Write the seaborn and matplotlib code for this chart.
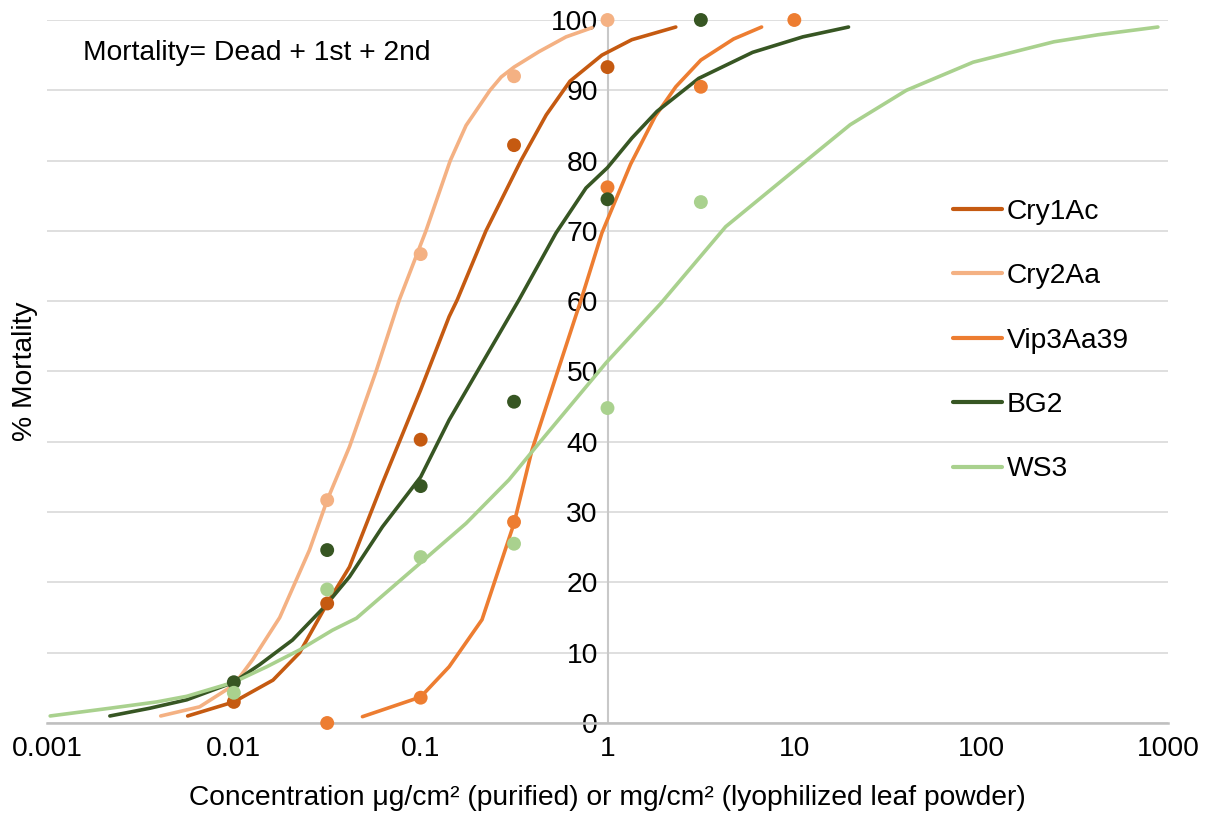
import numpy as np
import pandas as pd
import matplotlib
matplotlib.use("Agg")
import matplotlib.pyplot as plt
import seaborn as sns

# ---------------- data ----------------
series_names = ["Cry1Ac", "Cry2Aa", "Vip3Aa39", "BG2", "WS3"]
colors = ["#C55A11", "#F4B183", "#ED7D31", "#375623", "#A9D18E"]

# observed points
conc = [0.01, 0.0316, 0.1, 0.316, 1, 3.16, 10]
obs_cry1ac = [3.0, 17.0, 40.3, 82.2, 93.3, None, None]
obs_cry2aa = [None, 31.7, 66.7, 92.0, 100.0, None, None]
obs_vip = [None, 0.0, 3.6, 28.6, 76.2, 90.5, 100.0]
obs_bg2 = [5.8, 24.6, 33.7, 45.7, 74.5, 100.0, None]
obs_ws3 = [4.3, 19.0, 23.6, 25.5, 44.8, 74.1, None]

# fitted curves
cry1ac_x = [0.00566, 0.01, 0.0162, 0.0225, 0.0316, 0.0416, 0.0624, 0.1, 0.142, 0.157,
            0.2235, 0.344, 0.47, 0.63, 0.933, 1.35, 2.32]
cry1ac_y = [1.0, 3.0, 6.1, 10.0, 17.0, 22.2, 34.1, 47.4, 57.8, 60.2,
            70.0, 80.0, 86.5, 91.3, 95.0, 97.2, 99.0]

cry2aa_x = [0.00406, 0.00656, 0.01, 0.0126, 0.0176, 0.0254, 0.0316, 0.0416, 0.058, 0.0769,
            0.1067, 0.144, 0.175, 0.235, 0.27, 0.316, 0.43, 0.6, 0.826]
cry2aa_y = [1.0, 2.3, 5.4, 9.0, 15.0, 24.6, 31.7, 39.3, 50.2, 60.2,
            70.0, 80.0, 85.0, 90.0, 91.9, 93.3, 95.5, 97.6, 98.9]

vip_x = [0.0488, 0.1, 0.142, 0.213, 0.316, 0.394, 0.55, 0.73, 0.933, 1.33, 1.8,
         2.32, 3.16, 4.73, 6.68]
vip_y = [0.9, 3.7, 8.0, 14.7, 28.4, 38.8, 50.6, 60.6, 69.7, 79.5, 86.3,
         90.5, 94.3, 97.3, 99.0]

bg2_x = [0.00217, 0.00355, 0.0056, 0.01, 0.01374, 0.0206, 0.0305, 0.0416, 0.0624, 0.1,
         0.142, 0.336, 0.53, 0.767, 1.0, 1.35, 1.84, 3.08, 5.98, 11.1, 19.5]
bg2_y = [1.0, 2.1, 3.3, 5.8, 8.3, 11.8, 16.5, 20.8, 27.9, 35.0,
         43.1, 60.2, 69.7, 76.1, 79.0, 83.2, 87.0, 91.7, 95.4, 97.6, 99.0]

ws3_x = [0.00104, 0.00217, 0.00387, 0.0056, 0.01, 0.015, 0.0225, 0.0337, 0.0453, 0.1,
         0.175, 0.297, 0.43, 0.98, 1.93, 4.29, 11.1, 19.9, 39.8, 90.6, 245, 422, 883]
ws3_y = [1.0, 2.1, 3.0, 3.8, 5.8, 8.0, 10.4, 13.2, 14.9, 22.8,
         28.4, 34.6, 39.8, 51.2, 59.7, 70.6, 79.6, 85.1, 90.0, 94.0, 96.9, 97.9, 99.0]

x_ticks = [0.001, 0.01, 0.1, 1, 10, 100, 1000]
x_tick_labels = ["0.001", "0.01", "0.1", "1", "10", "100", "1000"]
y_ticks = list(range(0, 101, 10))

# ---------------- tables ----------------
curve_sets = [(cry1ac_x, cry1ac_y), (cry2aa_x, cry2aa_y), (vip_x, vip_y),
              (bg2_x, bg2_y), (ws3_x, ws3_y)]
obs_sets = [obs_cry1ac, obs_cry2aa, obs_vip, obs_bg2, obs_ws3]

curve_rows = []
for name, (xs, ys) in zip(series_names, curve_sets):
    for xv, yv in zip(xs, ys):
        curve_rows.append({"series": name, "conc": xv, "mort": yv})
curves = pd.DataFrame(curve_rows)

pt_rows = []
for name, vals in zip(series_names, obs_sets):
    for xv, yv in zip(conc, vals):
        if yv is not None:
            pt_rows.append({"series": name, "conc": xv, "mort": yv})
points = pd.DataFrame(pt_rows)

palette = dict(zip(series_names, colors))

# ---------------- plot ----------------
sns.set_theme(style="white")
plt.rcParams["font.family"] = ["Liberation Sans", "DejaVu Sans"]
plt.rcParams["text.color"] = "#000000"
plt.rcParams["axes.labelcolor"] = "#000000"

W, H = 1209, 816
fig = plt.figure(figsize=(W / 100, H / 100), dpi=100)
ax = fig.add_axes([47 / W, 93 / H, 1121 / W, 703 / H])

FS = 20.3

sns.lineplot(data=curves, x="conc", y="mort", hue="series", hue_order=series_names,
             palette=palette, estimator=None, linewidth=2.6, ax=ax, zorder=3,
             solid_joinstyle="round", solid_capstyle="round")
sns.scatterplot(data=points, x="conc", y="mort", hue="series", hue_order=series_names,
                palette=palette, s=100, edgecolor="none", legend=False, ax=ax,
                zorder=4, clip_on=False)

ax.set_xscale("log")
ax.set_xlim(0.001, 1000)
ax.set_ylim(0, 100)
ax.set_xticks(x_ticks)
ax.set_xticklabels(x_tick_labels)
ax.xaxis.set_minor_locator(matplotlib.ticker.NullLocator())
ax.set_yticks(y_ticks)

ax.grid(axis="y", color="#D9D9D9", linewidth=1.2)
ax.grid(axis="x", visible=False)
ax.set_axisbelow(True)

for s in ["top", "right"]:
    ax.spines[s].set_visible(False)
ax.spines["left"].set_position(("data", 1))
ax.spines["left"].set_color("#C8C8C8")
ax.spines["left"].set_linewidth(1.5)
ax.spines["bottom"].set_color("#BFBFBF")
ax.spines["bottom"].set_linewidth(1.8)

ax.tick_params(axis="x", length=0, pad=9, labelsize=FS, labelcolor="#000000")
ax.tick_params(axis="y", length=0, pad=7, labelsize=FS, labelcolor="#000000")

ax.set_xlabel("Concentration \u03bcg/cm\u00b2 (purified) or mg/cm\u00b2 (lyophilized leaf powder)",
              fontsize=FS, va="center", color="#000000")
ax.xaxis.set_label_coords(0.5, (723 - 798) / 703)
ax.set_ylabel("% Mortality", fontsize=FS, va="center", color="#000000")
ax.yaxis.set_label_coords((25 - 47) / 1121, 0.5)

fig.text(83 / W, 1 - 53 / H, "Mortality= Dead + 1st + 2nd", fontsize=FS,
         ha="left", va="center")

handles, labels = ax.get_legend_handles_labels()
leg = ax.legend(handles, labels, loc="upper left",
                bbox_to_anchor=(953 / W, 1 - 199 / H), bbox_transform=fig.transFigure,
                frameon=False, fontsize=FS, handlelength=1.75, handletextpad=0.15,
                labelspacing=1.36, borderpad=0, borderaxespad=0)
for lh in leg.get_lines():
    lh.set_linewidth(3)

fig.savefig("out.png", dpi=100)
